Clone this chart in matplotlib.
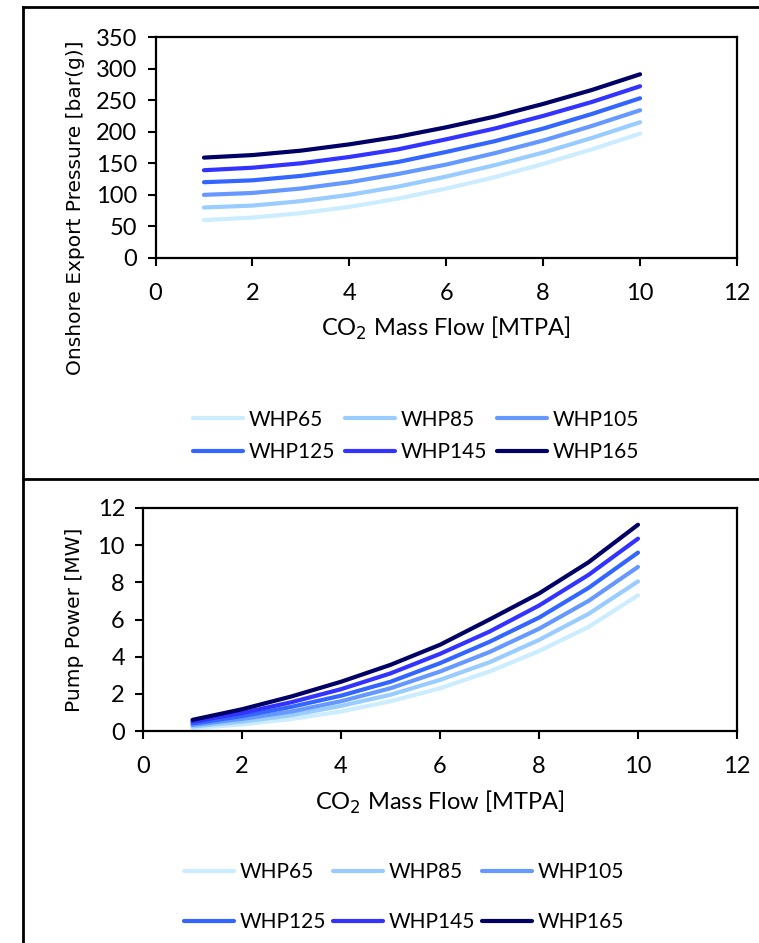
import matplotlib
matplotlib.use('Agg')
import matplotlib.pyplot as plt
from matplotlib.lines import Line2D

flow = [1, 2, 3, 4, 5, 6, 7, 8, 9, 10]
labels = ['WHP65', 'WHP85', 'WHP105', 'WHP125', 'WHP145', 'WHP165']
colors = ['#CCECFF', '#99CCFF', '#6699FF', '#3366FF', '#3333FF', '#000066']

# onshore export pressure [bar(g)]
pressure = [
    [60, 64, 71, 81, 94, 110, 128, 149, 172, 197],
    [80, 83, 90, 100, 113, 129, 147, 167, 190, 215],
    [100, 103, 110, 120, 133, 148, 166, 186, 209, 234],
    [120, 123, 130, 140, 152, 168, 185, 205, 228, 253],
    [139, 143, 150, 160, 172, 188, 205, 225, 247, 272],
    [159, 163, 170, 180, 192, 207, 224, 244, 266, 291],
]

# pump power [MW]
power = [
    [0.15, 0.35, 0.65, 1.05, 1.6, 2.3, 3.2, 4.3, 5.6, 7.3],
    [0.24, 0.5, 0.85, 1.35, 1.95, 2.75, 3.7, 4.9, 6.3, 8.05],
    [0.32, 0.65, 1.05, 1.6, 2.3, 3.2, 4.25, 5.5, 7.0, 8.83],
    [0.4, 0.8, 1.3, 1.9, 2.65, 3.65, 4.8, 6.1, 7.7, 9.6],
    [0.5, 0.97, 1.55, 2.25, 3.1, 4.15, 5.35, 6.75, 8.4, 10.35],
    [0.6, 1.17, 1.86, 2.65, 3.56, 4.64, 6.0, 7.4, 9.08, 11.1],
]

plt.rcParams['font.family'] = ['Lato', 'DejaVu Sans']

W, H = 759, 943
fig = plt.figure(figsize=(W / 100, H / 100), dpi=100)

def px(x0, y0, x1, y1):
    # pixel box -> figure fraction rect
    return [x0 / W, 1 - y1 / H, (x1 - x0) / W, (y1 - y0) / H]

ax1 = fig.add_axes(px(155.5, 37, 737, 258))
ax2 = fig.add_axes(px(143, 508, 737, 731))

for ax, data, ymax, ystep in [(ax1, pressure, 350, 50), (ax2, power, 12, 2)]:
    for vals, lab, c in zip(data, labels, colors):
        ax.plot(flow, vals, color=c, lw=3, label=lab, solid_capstyle='round')
    ax.set_xlim(0, 12)
    ax.set_ylim(0, ymax)
    ax.set_xticks(range(0, 13, 2))
    ax.set_yticks(range(0, ymax + 1, ystep))
    ax.tick_params(direction='out', length=6, width=1.5, labelsize=17, pad=7)
    ax.tick_params(axis='x', pad=12)
    for s in ax.spines.values():
        s.set_linewidth(1.6)
    ax.set_xlabel('CO$_2$ Mass Flow [MTPA]', fontsize=17, va='center')

ax1.xaxis.set_label_coords(0.5, -0.317)
ax2.xaxis.set_label_coords(0.5, -0.318)

ax1.set_ylabel('Onshore Export Pressure [bar(g)]', family='DejaVu Sans', fontsize=14.5, va='center')
ax1.yaxis.set_label_coords(-0.138, 0.226)
ax2.set_ylabel('Pump Power [MW]', family='DejaVu Sans', fontsize=14.5, va='center')
ax2.yaxis.set_label_coords(-0.1145, 0.5)

# row-wise legend order like the original
order = [0, 3, 1, 4, 2, 5]

h, l = ax1.get_legend_handles_labels()
fig.legend([h[i] for i in order], [l[i] for i in order], loc='center',
           bbox_to_anchor=(416 / W, 1 - 436 / H), ncol=3,
           frameon=False, fontsize=15, handlelength=2.4, handletextpad=0.3,
           columnspacing=0.45, labelspacing=0.6)
h, l = ax2.get_legend_handles_labels()
fig.legend([h[i] for i in order], [l[i] for i in order], loc='center',
           bbox_to_anchor=(404 / W, 1 - 897 / H), ncol=3,
           frameon=False, fontsize=15, handlelength=2.4, handletextpad=0.3,
           columnspacing=0.3, labelspacing=1.45)

# outer panel frames
fig.add_artist(Line2D([23 / W, 23 / W], [0, 1 - 7 / H], color='black', lw=2))
fig.add_artist(Line2D([23 / W, 1], [1 - 7 / H, 1 - 7 / H], color='black', lw=2))
fig.add_artist(Line2D([23 / W, 1], [1 - 479 / H, 1 - 479 / H], color='black', lw=2))

fig.savefig('out.png', dpi=100)
